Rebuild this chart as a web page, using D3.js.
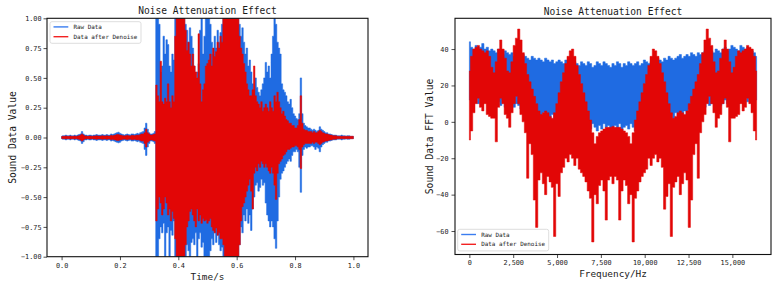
<!DOCTYPE html>
<html><head><meta charset="utf-8">
<script src="https://cdn.jsdelivr.net/npm/d3@7"></script>
<style>
body{margin:0;background:#fff}
svg{display:block}
text{font-family:"DejaVu Sans Mono",monospace;fill:#1a1a1a}
</style>
</head><body><svg id="c" width="775" height="285"></svg>
<script>
// ---------- tick labels / categories ----------
const timeTicks = [0, 0.2, 0.4, 0.6, 0.8, 1.0];
const timeTickLabels = ["0.0", "0.2", "0.4", "0.6", "0.8", "1.0"];
const ampTicks = [1, 0.75, 0.5, 0.25, 0, -0.25, -0.5, -0.75, -1];
const ampTickLabels = ["1.00", "0.75", "0.50", "0.25", "0.00", "\u22120.25", "\u22120.50", "\u22120.75", "\u22121.00"];
const freqTicks = [0, 2500, 5000, 7500, 10000, 12500, 15000];
const freqTickLabels = ["0", "2,500", "5,000", "7,500", "10,000", "12,500", "15,000"];
const dbTicks = [40, 20, 0, -20, -40, -60];
const dbTickLabels = ["40", "20", "0", "\u221220", "\u221240", "\u221260"];
const seriesNames = ["Raw Data", "Data after Denoise"];
const chartTitles = ["Noise Attenuation Effect", "Noise Attenuation Effect"];
const axisTitles = ["Time/s", "Sound Data Value", "Frequency/Hz", "Sound Data FFT Value"];

// ---------- time signal envelopes (one value per 0.005 s bin, t = 0 .. 1 s) ----------
const timeBinWidth = 0.005;
const rawMax = [
 0.01,0.015,0.015,0.02,0.015,0.015,0.02,0.015,0.015,0.02,
 0.015,0.02,0.025,0.03,0.05,0.03,0.02,0.02,0.015,0.02,
 0.02,0.015,0.02,0.02,0.025,0.02,0.02,0.02,0.025,0.02,
 0.02,0.025,0.02,0.02,0.03,0.025,0.03,0.035,0.04,0.045,
 0.035,0.03,0.025,0.02,0.025,0.03,0.025,0.02,0.03,0.03,
 0.025,0.03,0.035,0.03,0.04,0.045,0.05,0.08,0.12,0.07,
 0.04,0.03,0.03,0.035,0.05,1.0,1.0,0.95,0.55,0.6,
 0.85,0.7,0.82,0.78,0.6,0.55,0.7,0.65,1.0,1.0,
 1.0,1.0,1.0,1.0,1.0,0.95,0.9,0.8,0.92,0.85,
 0.75,0.6,0.5,0.55,0.62,0.9,1.0,0.7,0.85,1.0,
 1.0,1.0,0.95,0.8,0.7,0.85,0.75,0.9,0.8,0.88,
 0.95,1.0,1.0,1.0,1.0,1.0,1.0,1.0,1.0,1.0,
 1.0,1.0,0.95,0.85,0.92,0.8,0.7,0.75,0.6,0.65,
 0.55,0.45,0.4,0.5,0.42,0.38,0.35,0.4,0.45,0.5,
 0.63,0.55,0.6,0.5,0.7,0.85,1.0,0.95,0.8,0.75,
 0.7,0.45,0.4,0.38,0.35,0.3,0.28,0.32,0.25,0.2,
 0.18,0.16,0.15,0.2,0.5,0.2,0.12,0.1,0.09,0.08,
 0.08,0.07,0.06,0.07,0.06,0.05,0.06,0.09,0.07,0.06,
 0.05,0.04,0.04,0.03,0.03,0.025,0.02,0.02,0.02,0.015,
 0.015,0.015,0.02,0.015,0.015,0.01,0.015,0.015,0.01,0.01,0.01];
const rawMin = [
 -0.01,-0.015,-0.015,-0.02,-0.015,-0.015,-0.02,-0.015,-0.015,-0.02,
 -0.015,-0.02,-0.025,-0.03,-0.05,-0.035,-0.02,-0.02,-0.015,-0.02,
 -0.02,-0.015,-0.02,-0.02,-0.025,-0.02,-0.02,-0.02,-0.025,-0.02,
 -0.02,-0.025,-0.02,-0.02,-0.03,-0.025,-0.03,-0.035,-0.04,-0.045,
 -0.04,-0.03,-0.025,-0.02,-0.025,-0.03,-0.025,-0.02,-0.03,-0.03,
 -0.025,-0.03,-0.035,-0.03,-0.04,-0.045,-0.05,-0.1,-0.15,-0.08,
 -0.05,-0.03,-0.03,-0.035,-0.05,-1.0,-1.0,-0.85,-0.75,-0.8,
 -0.72,-1.0,-0.8,-0.75,-1.0,-0.78,-0.82,-0.7,-1.0,-1.0,
 -1.0,-1.0,-1.0,-1.0,-1.0,-1.0,-0.9,-0.95,-1.0,-0.88,
 -0.85,-0.9,-0.8,-1.0,-0.85,-0.8,-0.92,-0.88,-1.0,-1.0,
 -1.0,-1.0,-0.95,-0.85,-0.9,-0.8,-0.88,-0.82,-0.9,-0.95,
 -0.92,-1.0,-1.0,-1.0,-1.0,-1.0,-1.0,-1.0,-1.0,-1.0,
 -1.0,-1.0,-0.9,-0.75,-0.8,-0.65,-0.7,-0.6,-0.72,-0.65,
 -0.78,-0.6,-0.5,-0.4,-0.38,-0.45,-0.42,-0.35,-0.4,-0.38,
 -0.55,-0.65,-0.7,-0.75,-0.7,-0.75,-0.85,-0.93,-0.7,-0.5,
 -0.35,-0.3,-0.28,-0.25,-0.22,-0.2,-0.18,-0.2,-0.15,-0.12,
 -0.12,-0.1,-0.12,-0.25,-0.46,-0.15,-0.1,-0.08,-0.09,-0.08,
 -0.08,-0.07,-0.07,-0.08,-0.1,-0.08,-0.09,-0.12,-0.08,-0.06,
 -0.05,-0.04,-0.04,-0.03,-0.03,-0.025,-0.02,-0.02,-0.02,-0.015,
 -0.015,-0.015,-0.02,-0.015,-0.015,-0.01,-0.015,-0.015,-0.01,-0.01,-0.01];
const denMax = [
 0.008,0.01,0.01,0.012,0.01,0.01,0.012,0.01,0.01,0.012,
 0.01,0.012,0.015,0.02,0.03,0.02,0.012,0.012,0.01,0.012,
 0.012,0.01,0.012,0.012,0.015,0.012,0.012,0.012,0.015,0.012,
 0.012,0.015,0.012,0.012,0.018,0.015,0.018,0.02,0.025,0.025,
 0.02,0.018,0.015,0.012,0.015,0.018,0.015,0.012,0.018,0.018,
 0.015,0.018,0.02,0.018,0.025,0.03,0.03,0.04,0.07,0.04,
 0.03,0.02,0.02,0.025,0.03,0.44,0.35,0.3,0.64,0.3,
 0.28,0.33,0.3,0.45,0.3,0.25,0.35,0.3,0.85,1.0,
 1.0,1.0,1.0,1.0,1.0,0.9,0.73,0.8,0.7,0.6,
 0.7,0.6,0.55,0.5,0.87,0.45,0.3,0.4,0.45,0.6,
 0.62,0.65,0.7,0.6,0.75,0.68,0.72,0.8,0.75,0.85,
 0.8,1.0,1.0,1.0,1.0,1.0,1.0,1.0,1.0,1.0,
 1.0,1.0,0.85,0.75,0.7,0.62,0.55,0.45,0.4,0.35,
 0.35,0.4,0.6,0.35,0.3,0.28,0.25,0.3,0.22,0.25,
 0.28,0.25,0.22,0.3,0.25,0.22,0.35,0.3,0.38,0.3,
 0.25,0.2,0.22,0.18,0.15,0.14,0.12,0.12,0.1,0.1,
 0.08,0.08,0.1,0.15,0.35,0.12,0.07,0.06,0.06,0.05,
 0.05,0.05,0.04,0.05,0.04,0.04,0.05,0.06,0.05,0.04,
 0.035,0.03,0.03,0.025,0.02,0.02,0.015,0.015,0.015,0.01,
 0.01,0.01,0.01,0.01,0.01,0.01,0.01,0.01,0.01,0.01,0.01];
const denMin = [
 -0.008,-0.01,-0.01,-0.012,-0.01,-0.01,-0.012,-0.01,-0.01,-0.012,
 -0.01,-0.012,-0.015,-0.02,-0.03,-0.02,-0.012,-0.012,-0.01,-0.012,
 -0.012,-0.01,-0.012,-0.012,-0.015,-0.012,-0.012,-0.012,-0.015,-0.012,
 -0.012,-0.015,-0.012,-0.012,-0.018,-0.015,-0.018,-0.02,-0.025,-0.025,
 -0.02,-0.018,-0.015,-0.012,-0.015,-0.018,-0.015,-0.012,-0.018,-0.018,
 -0.015,-0.018,-0.02,-0.018,-0.025,-0.03,-0.03,-0.05,-0.08,-0.04,
 -0.03,-0.02,-0.02,-0.025,-0.03,-0.7,-0.6,-0.5,-0.55,-0.65,
 -0.6,-0.5,-0.55,-0.65,-0.6,-0.7,-0.62,-0.68,-0.85,-1.0,
 -1.0,-1.0,-1.0,-1.0,-1.0,-0.9,-0.75,-0.7,-0.62,-0.6,
 -0.65,-0.7,-0.75,-0.6,-0.7,-0.65,-0.72,-0.68,-0.7,-0.69,
 -0.72,-0.7,-0.68,-0.75,-0.78,-0.8,-0.76,-0.82,-0.8,-0.85,
 -0.85,-0.9,-1.0,-1.0,-1.0,-1.0,-1.0,-1.0,-1.0,-1.0,
 -1.0,-1.0,-0.9,-0.7,-0.58,-0.55,-0.5,-0.45,-0.4,-0.35,
 -0.45,-0.6,-0.3,-0.25,-0.28,-0.22,-0.25,-0.2,-0.22,-0.25,
 -0.22,-0.25,-0.28,-0.3,-0.25,-0.3,-0.4,-0.52,-0.3,-0.22,
 -0.2,-0.18,-0.15,-0.14,-0.12,-0.1,-0.1,-0.09,-0.08,-0.08,
 -0.07,-0.07,-0.08,-0.1,-0.26,-0.08,-0.06,-0.05,-0.05,-0.05,
 -0.05,-0.05,-0.04,-0.05,-0.04,-0.04,-0.05,-0.06,-0.05,-0.04,
 -0.035,-0.03,-0.03,-0.025,-0.02,-0.02,-0.015,-0.015,-0.015,-0.01,
 -0.01,-0.01,-0.01,-0.01,-0.01,-0.01,-0.01,-0.01,-0.01,-0.01,-0.01];

// ---------- spectrum envelopes (one value per 128 Hz bin, f = 0 .. 16384 Hz) ----------
const freqBinWidth = 128;
const rawFftMax = [
 44,41,40,42,40,41,43,40,41,39,40,
 39,38,40,38,37,39,38,37,38,36,
 37,36,35,37,36,35,34,36,35,34,
 35,34,33,35,34,33,34,32,33,34,
 33,32,34,33,31,32,33,32,31,33,
 32,31,33,32,30,31,33,32,31,33,32,31,30,32,
 31,33,32,30,32,31,33,32,31,32,
 33,31,32,34,33,32,33,34,33,35,
 34,33,35,34,36,35,34,35,36,37,
 35,36,37,36,38,37,36,38,37,38,
 39,38,37,39,38,40,39,38,40,41,
 39,40,42,41,40,39,42,41,40,41,
 40,39,38,36];
const rawFftMin = [
 12,15,12,14,10,13,11,14,12,10,13,
 10,8,11,9,12,8,10,9,11,8,
 10,9,7,8,6,7,5,4,6,3,
 4,2,5,0,3,1,4,-1,2,0,
 1,-2,0,2,-1,-3,0,-2,1,-4,
 -3,-5,-2,-4,-1,-3,-5,-2,-4,-1,-3,-2,-5,-3,
 -2,-4,-1,-5,-3,-2,-4,-1,-3,-5,
 -2,-4,0,-2,1,-3,-1,0,2,-2,
 1,-1,3,0,2,4,1,5,3,2,
 4,6,3,7,5,8,6,9,7,10,
 8,11,9,10,12,8,11,9,10,12,
 10,13,11,14,12,10,13,12,14,11,
 13,12,14,12];
const denFftMax = [
 28,36,40,41,42,40,39,38,39,36,30,
 27,33,40,45,40,35,28,27,33,42,
 46,51,45,38,32,26,22,18,14,10,
 6,4,5,6,5,3,2,5,10,16,
 22,27,32,36,39,40,36,31,26,21,
 16,11,6,1,-6,-12,-8,-6,-5,-4,-3,-3,-3,-2.5,
 -3,-3,-3,-4,-5,-6,-8,-12,-6,1,
 6,11,16,21,26,31,36,40,39,36,
 32,27,22,16,10,5,2,3,5,6,
 5,4,6,10,14,18,22,26,32,38,
 45,51,46,42,33,27,28,35,40,45,
 40,33,27,30,36,39,38,39,40,42,
 41,40,36,28];
const denFftMin = [
 -10,-5,5,10,13,8,6,10,4,3,2,
 2,-11,8,13,10,4,2,-3,5,10,
 14,10,4,0,-6,-31,-12,-18,-43,-58,
 -32,-28,-34,-40,-30,-33,-36,-63,-34,-41,
 -28,-25,-20,-22,-18,-20,-24,-20,-26,-28,
 -30,-33,-38,-42,-66,-40,-45,-35,-32,-38,-54,-32,-30,-34,
 -30,-32,-54,-38,-32,-35,-45,-40,-66,-42,
 -38,-33,-30,-28,-26,-20,-24,-20,-18,-22,
 -20,-25,-48,-41,-34,-63,-36,-33,-30,-40,
 -34,-28,-32,-58,-43,-18,-12,-31,-6,0,
 4,10,14,10,5,-3,2,4,10,13,
 8,-11,2,2,3,4,10,6,8,13,
 10,5,-5,-10];

// ---------- drawing ----------
const BLUE = "#1f6be2", RED = "#e20606";
const svg = d3.select("#c");
svg.append("rect").attr("width", 775).attr("height", 285).attr("fill", "#fff");
const defs = svg.append("defs");

function panel(cfg) {
  const {x, y, id} = cfg;
  const [x0, x1] = x.range(), [y0, y1] = y.range(); // y0 bottom
  defs.append("clipPath").attr("id", id).append("rect")
    .attr("x", x0).attr("y", y1).attr("width", x1 - x0).attr("height", y0 - y1);
  const g = svg.append("g");
  const plot = g.append("g").attr("clip-path", `url(#${id})`);
  cfg.series.forEach(s => {
    const data = s.max.map((v, i) => ({k: i * cfg.binWidth, hi: v, lo: s.min[i]}));
    const area = d3.area().x(d => x(d.k)).y0(d => y(d.lo)).y1(d => y(d.hi)).curve(d3.curveStep);
    plot.append("path").datum(data).attr("d", area)
      .attr("fill", s.color).attr("stroke", s.color).attr("stroke-width", 0.5);
  });
  // axes
  const ax = g.append("g").attr("transform", `translate(0,${y0})`)
    .call(d3.axisBottom(x).tickValues(cfg.xTicks).tickFormat((d, i) => cfg.xLabels[i]).tickSize(3.5).tickPadding(2.5));
  const ay = g.append("g").attr("transform", `translate(${x0},0)`)
    .call(d3.axisLeft(y).tickValues(cfg.yTicks).tickFormat((d, i) => cfg.yLabels[i]).tickSize(3.5).tickPadding(cfg.yPad));
  [ax, ay].forEach(a => {
    a.select(".domain").remove();
    a.selectAll(".tick line").attr("stroke", "#222").attr("stroke-width", 0.8);
    a.selectAll(".tick text").attr("font-size", 6.8).attr("font-family", "DejaVu Sans Mono").attr("fill", "#333");
  });
  // frame
  g.append("rect").attr("x", x0).attr("y", y1).attr("width", x1 - x0).attr("height", y0 - y1)
    .attr("fill", "none").attr("stroke", "#111").attr("stroke-width", 1.1);
  // title
  g.append("text").attr("x", (x0 + x1) / 2).attr("y", cfg.titleY).attr("text-anchor", "middle")
    .attr("font-size", 9.6).text(cfg.title);
  g.append("text").attr("x", (x0 + x1) / 2).attr("y", cfg.xTitleY).attr("text-anchor", "middle")
    .attr("font-size", 9.4).text(cfg.xTitle);
  g.append("text").attr("transform", `translate(${cfg.yTitleX},${(y0 + y1) / 2}) rotate(-90)`)
    .attr("text-anchor", "middle").attr("font-size", 9.6).text(cfg.yTitle);
  // legend
  const L = cfg.legend;
  const lg = g.append("g").attr("transform", `translate(${L.x},${L.y})`);
  lg.append("rect").attr("width", 91).attr("height", 21.6).attr("rx", 2)
    .attr("fill", "#fff").attr("fill-opacity", 0.8).attr("stroke", "#d4d4d4").attr("stroke-width", 0.8);
  cfg.series.forEach((s, i) => {
    const yy = 5.2 + i * 9.8;
    lg.append("line").attr("x1", 3.5).attr("x2", 18.3).attr("y1", yy).attr("y2", yy)
      .attr("stroke", s.legendColor).attr("stroke-width", 1.4);
    lg.append("text").attr("x", 23.5).attr("y", yy + 2.1).attr("font-size", 5.9).text(s.name);
  });
}

panel({
  id: "clipL",
  x: d3.scaleLinear().domain([-0.05, 1.05]).range([47, 368]),
  y: d3.scaleLinear().domain([-1, 1]).range([256.7, 18.3]),
  binWidth: timeBinWidth,
  series: [
    {name: seriesNames[0], max: rawMax, min: rawMin, color: BLUE, legendColor: "#3a7df0"},
    {name: seriesNames[1], max: denMax, min: denMin, color: RED, legendColor: "#f22222"}
  ],
  xTicks: timeTicks, xLabels: timeTickLabels, yTicks: ampTicks, yLabels: ampTickLabels, yPad: 2,
  title: chartTitles[0], titleY: 14, xTitle: axisTitles[0], xTitleY: 279.5,
  yTitle: axisTitles[1], yTitleX: 16.2,
  legend: {x: 50, y: 21.7}
});

panel({
  id: "clipR",
  x: d3.scaleLinear().domain([-819.2, 17203.2]).range([455, 771]),
  y: d3.scaleLinear().domain([-72.9, 56.9]).range([254.5, 18.3]),
  binWidth: freqBinWidth,
  series: [
    {name: seriesNames[0], max: rawFftMax, min: rawFftMin, color: BLUE, legendColor: "#3a7df0"},
    {name: seriesNames[1], max: denFftMax, min: denFftMin, color: RED, legendColor: "#f22222"}
  ],
  xTicks: freqTicks, xLabels: freqTickLabels, yTicks: dbTicks, yLabels: dbTickLabels, yPad: 3,
  title: chartTitles[1], titleY: 14.5, xTitle: axisTitles[2], xTitleY: 276.5,
  yTitle: axisTitles[3], yTitleX: 432.5,
  legend: {x: 457.7, y: 229.3}
});
</script>
</body></html>
